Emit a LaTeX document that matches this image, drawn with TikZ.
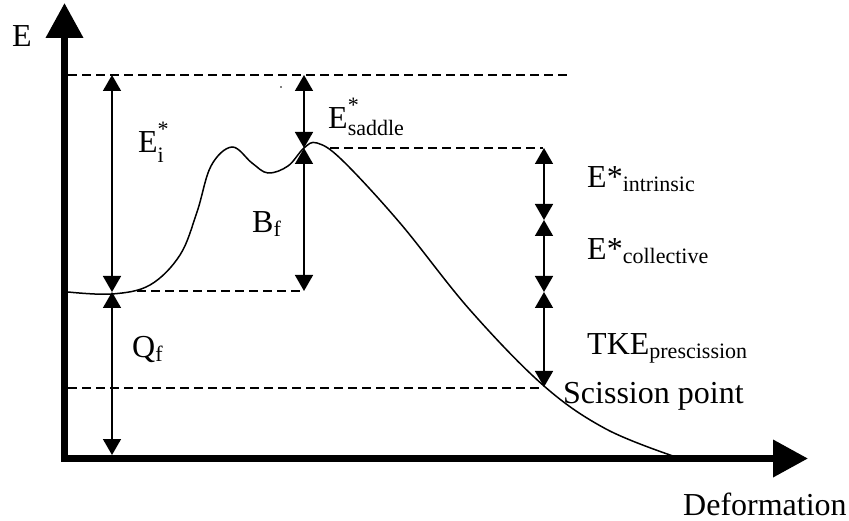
\documentclass[tikz,border=0pt]{standalone}
\usepackage{fontspec}
\setmainfont{Liberation Serif}
\usetikzlibrary{arrows.meta}
\newcommand\smallsz{\fontsize{22}{22}\selectfont}
\begin{document}
\begin{tikzpicture}[x=1pt,y=-1pt,
  axis/.style={line width=7pt,line join=miter},
  dimarrow/.style={line width=1.5pt,{Triangle[width=18pt,length=16pt]}-{Triangle[width=18pt,length=16pt]}},
  guide/.style={line width=1.3pt,dash pattern=on 9pt off 5pt},
  curve/.style={line width=1.5pt},
  lab/.style={inner sep=0pt,anchor=base west,font=\fontsize{32}{38}\selectfont}]
\useasboundingbox (0,0) rectangle (849,521);

% axes
\coordinate (ytip) at (64.5,3);
\coordinate (origin) at (64.5,458.5);
\coordinate (xtip) at (808,458.5);
\draw[axis,{Triangle[width=36pt,length=35pt]}-{Triangle[width=36pt,length=35pt]}] (ytip) -- (origin) -- (xtip);

% levels
\coordinate (topL) at (68,75);   \coordinate (topR) at (570,75);
\coordinate (sadL) at (330,148); \coordinate (sadR) at (543,148);
\coordinate (gndL) at (137,291); \coordinate (gndR) at (304,291);
\coordinate (sciL) at (68,388);  \coordinate (sciR) at (543,388);
\draw[guide] (topL) -- (topR);
\draw[guide] (sadL) -- (sadR);
\draw[guide] (gndL) -- (gndR);
\draw[guide] (sciL) -- (sciR);

% arrow end points
\coordinate (a1) at (112,75);  \coordinate (a2) at (112,292); \coordinate (a3) at (112,455);
\coordinate (b1) at (304,75);  \coordinate (b2) at (304,148); \coordinate (b3) at (304,291);
\coordinate (c1) at (544,148); \coordinate (c2) at (544,220); \coordinate (c3) at (544,292); \coordinate (c4) at (544,387);
\draw[dimarrow] (a1) -- (a2);
\draw[dimarrow] (a2) -- (a3);
\draw[dimarrow] (b1) -- (b2);
\draw[dimarrow] (b2) -- (b3);
\draw[dimarrow] (c1) -- (c2);
\draw[dimarrow] (c2) -- (c3);
\draw[dimarrow] (c3) -- (c4);

% potential curve
\draw[curve] plot[smooth,tension=0.6] coordinates {(68,292) (112,294) (150,285) (180,255) (197,212) (211,166) (232,147) (252,163) (268,173) (288,166) (304,148) (317,143) (342,160) (400,223) (470,310) (544,386) (606,429) (673,456)};

% speck
\fill (281,87) circle (0.8);

% labels
\node[lab] (lE) at (12,47) {E};
\node[lab] (lEi) at (138,153) {E\rlap{\raisebox{16pt}{\smallsz *}}\raisebox{-10pt}{\smallsz i}};
\node[lab] (lEs) at (328,129) {E\rlap{\raisebox{16pt}{\smallsz *}}\raisebox{-7pt}{\smallsz saddle}};
\node[lab] (lBf) at (252,233) {B\raisebox{-4pt}{\smallsz f}};
\node[lab] (lQf) at (132,358) {Q\raisebox{-4pt}{\smallsz f}};
\node[lab] (lint) at (587,188) {E*\raisebox{-4pt}{\smallsz intrinsic}};
\node[lab] (lcol) at (587,260) {E*\raisebox{-4pt}{\smallsz collective}};
\node[lab] (ltke) at (587,355) {TKE\raisebox{-4pt}{\smallsz prescission}};
\node[lab] (lsci) at (563,403) {Scission point};
\node[lab] (ldef) at (683,515) {Deformation};
\end{tikzpicture}
\end{document}
